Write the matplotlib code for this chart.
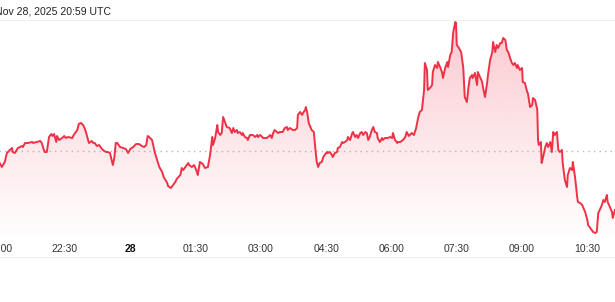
import numpy as np
import matplotlib
matplotlib.use("Agg")
import matplotlib.pyplot as plt
from matplotlib.patches import Polygon
from matplotlib.lines import Line2D

# minutes since 2025-11-27 21:00
minutes = [0, 3, 7, 10, 14, 17, 18, 21, 25, 31, 32, 35, 39, 45, 46, 51, 56, 58, 60, 62, 65, 68, 71, 73, 75, 78, 79, 82, 86, 89,
           91, 94, 100, 102, 107, 109, 112, 115, 118, 120, 123, 127, 129, 131, 134, 137, 141, 144, 147, 149, 152, 156, 158, 160,
           162, 166, 170, 174, 177, 180, 184, 188, 192, 196, 199, 202, 204, 206, 210, 211, 214, 217, 220, 224, 226, 231, 232,
           236, 239, 242, 244, 249, 251, 253, 257, 260, 261, 265, 268, 272, 273, 276, 280, 283, 287,
           290, 293, 294, 297, 300, 301, 304, 306, 308, 311, 313, 317, 320, 322, 324, 327, 328, 331, 334, 335, 338, 341, 342,
           345, 349, 352, 355, 356, 359, 362, 363, 368, 370, 373, 375, 377, 379, 382, 384, 386, 390, 393, 396, 397, 400, 404,
           407, 410, 411, 414, 417, 418, 421, 422, 424, 426, 430, 433, 435, 437, 439, 441, 444, 446, 448, 451, 452, 455, 458,
           459, 462, 465, 466, 469, 472, 473, 476, 479, 480, 483, 486, 487, 490, 492, 494, 497, 499, 501, 504, 506, 508, 510,
           513, 515, 517, 520, 521, 524, 527, 528, 531, 535, 538, 541, 542, 545, 548, 549, 552, 556, 559, 561, 564, 568, 571,
           574, 577, 579, 582, 583, 585, 586, 589, 590, 593, 596, 597, 600, 603, 604, 607, 610, 611, 614, 617, 618, 621, 623,
           625, 628, 629, 630, 633, 636, 639, 641, 644, 646, 648, 651, 652, 655, 658, 659, 662, 665, 666, 669, 672, 673, 676,
           679, 680, 683, 685, 687, 690, 692, 694, 697, 699, 701, 703, 706, 708, 710, 713, 714, 717, 720, 721, 724, 727, 728,
           731, 734, 735, 738, 741, 742, 743, 746, 747, 749, 752, 754, 756, 759, 761, 763, 765, 768, 770, 772, 775, 776, 779,
           782, 783, 786, 789, 790, 793, 796, 797, 800, 803, 804, 807, 810, 811, 814, 816, 818, 821, 823, 825, 827, 830, 832,
           834, 837, 838, 841, 844, 845, 848]

ypix = [163, 167, 162, 153, 150, 148, 152, 153, 148, 146, 147, 143, 143, 142, 143, 142, 141, 143, 148, 152, 152, 137, 134, 136, 134, 142, 136, 140, 138, 136,
        138, 137, 138, 135, 130, 124, 123, 125, 130, 135, 143, 141, 143, 143, 146, 145, 149, 151, 152, 152, 153, 165, 158, 143,
        143, 147, 148, 149, 153, 149, 147, 144, 144, 146, 147, 145, 136, 137, 140, 143, 153, 160, 167, 172, 177, 183, 186,
        188, 185, 182, 179, 175, 168, 170, 166, 163, 165, 167, 165, 172, 175, 162, 164, 168, 167,
        155, 137, 145, 138, 125, 132, 135, 133, 117, 123, 127, 128, 133, 128, 132, 130, 133, 132, 135, 133, 137, 138, 140,
        135, 135, 137, 135, 137, 135, 137, 138, 138, 137, 135, 138, 133, 130, 132, 133, 132, 132, 128, 127, 130, 128, 130,
        130, 128, 115, 112, 115, 113, 110, 107, 113, 123, 130, 132, 148, 162, 167, 163, 162, 157, 155, 152, 153, 152, 155,
        157, 153, 152, 148, 147, 142, 143, 142, 140, 137, 140, 133, 132, 137, 135, 138, 133, 132, 135, 132, 133, 140, 137,
        130, 127, 132, 133, 138, 142, 138, 140, 138, 138, 137, 138, 133, 140, 143, 142, 142, 140, 137, 132, 136, 133, 135,
        128, 117, 112, 110, 103, 90, 63, 70, 90, 88, 85, 72, 65, 68, 62, 67, 73, 78, 68, 62, 67, 55, 52,
        33, 22, 23, 45, 48, 52, 68, 97, 102, 88, 78, 75, 78, 73, 85, 72, 77, 82, 87, 97, 82, 75, 60,
        52, 42, 52, 45, 48, 43, 43, 38, 40, 50, 52, 57, 63, 65, 63, 68, 65, 70, 68, 82, 83, 92, 93,
        107, 105, 98, 100, 110, 140, 145, 142, 163, 157, 147, 143, 147, 142, 152, 132, 135, 132, 150, 152, 150, 163, 180,
        187, 175, 168, 170, 162, 177, 197, 202, 203, 205, 207, 212, 220, 225, 228, 230, 232, 233, 232, 213, 210, 205, 200,
        202, 195, 202, 207, 212, 218, 210]

values = [250 - y for y in ypix]
reference_value = 99

tick_minutes = [0, 90, 180, 270, 360, 450, 540, 630, 720, 810]
tick_labels = ["21:00", "22:30", "28", "01:30", "03:00", "04:30", "06:00", "07:30", "09:00", "10:30"]
title_text = "Nov 28, 2025 20:59 UTC"

W, H = 615, 302
fig = plt.figure(figsize=(W / 100, H / 100), dpi=100)
fig.patch.set_facecolor("white")

left_px, right_px = -30, 615
top_px, bot_px = 20, 236
ax = fig.add_axes([left_px / W, 1 - bot_px / H, (right_px - left_px) / W, (bot_px - top_px) / H])
ax.set_xlim(-40.9, 848.1)
ax.set_ylim(14, 230)
for s in ax.spines.values():
    s.set_visible(False)
ax.set_yticks([])

line_color = "#ee3147"
x = np.array(minutes, dtype=float)
y = np.array(values, dtype=float)

# gradient fill under the line
ymin, ymax = ax.get_ylim()
grad = np.linspace(0, 1, 256).reshape(-1, 1)
rgba = np.zeros((256, 1, 4))
rgba[..., 0] = 0xee / 255
rgba[..., 1] = 0x31 / 255
rgba[..., 2] = 0x47 / 255
rgba[..., 3] = 0.015 + 0.25 * grad[:, :] ** 1.1
im = ax.imshow(rgba, extent=[x[0], x[-1], ymin, 228], origin="lower", aspect="auto", zorder=1)
verts = np.vstack([[x[0], ymin], np.column_stack([x, y]), [x[-1], ymin]])
poly = Polygon(verts, closed=True, facecolor="none", edgecolor="none")
ax.add_patch(poly)
im.set_clip_path(poly)

ax.axhline(reference_value, color="#b5b5b5", lw=1.0, linestyle=(0, (1, 3)), zorder=2)
ax.axhline(ymax, color="#f0f0f0", lw=0.8, zorder=0)
ax.plot(x, y, color=line_color, lw=1.4, zorder=3, solid_joinstyle="round")

ax.set_xticks(tick_minutes)
ax.set_xticklabels(tick_labels, fontsize=7.5, color="#333333", family="Liberation Sans")
for lab in ax.get_xticklabels():
    if lab.get_text() == "28":
        lab.set_fontweight("bold")
        lab.set_color("#111111")
ax.tick_params(axis="x", length=0, pad=6)

# faint separator under the time axis
fig.add_artist(Line2D([0, 1], [1 - 257 / H, 1 - 257 / H], color="#f0f0f0", lw=0.8))

fig.text(-5 / W, 1 - 11 / H, title_text, fontsize=7.6, color="#222222", va="center", ha="left",
         family="Liberation Sans")

fig.savefig("out.png", dpi=100)
